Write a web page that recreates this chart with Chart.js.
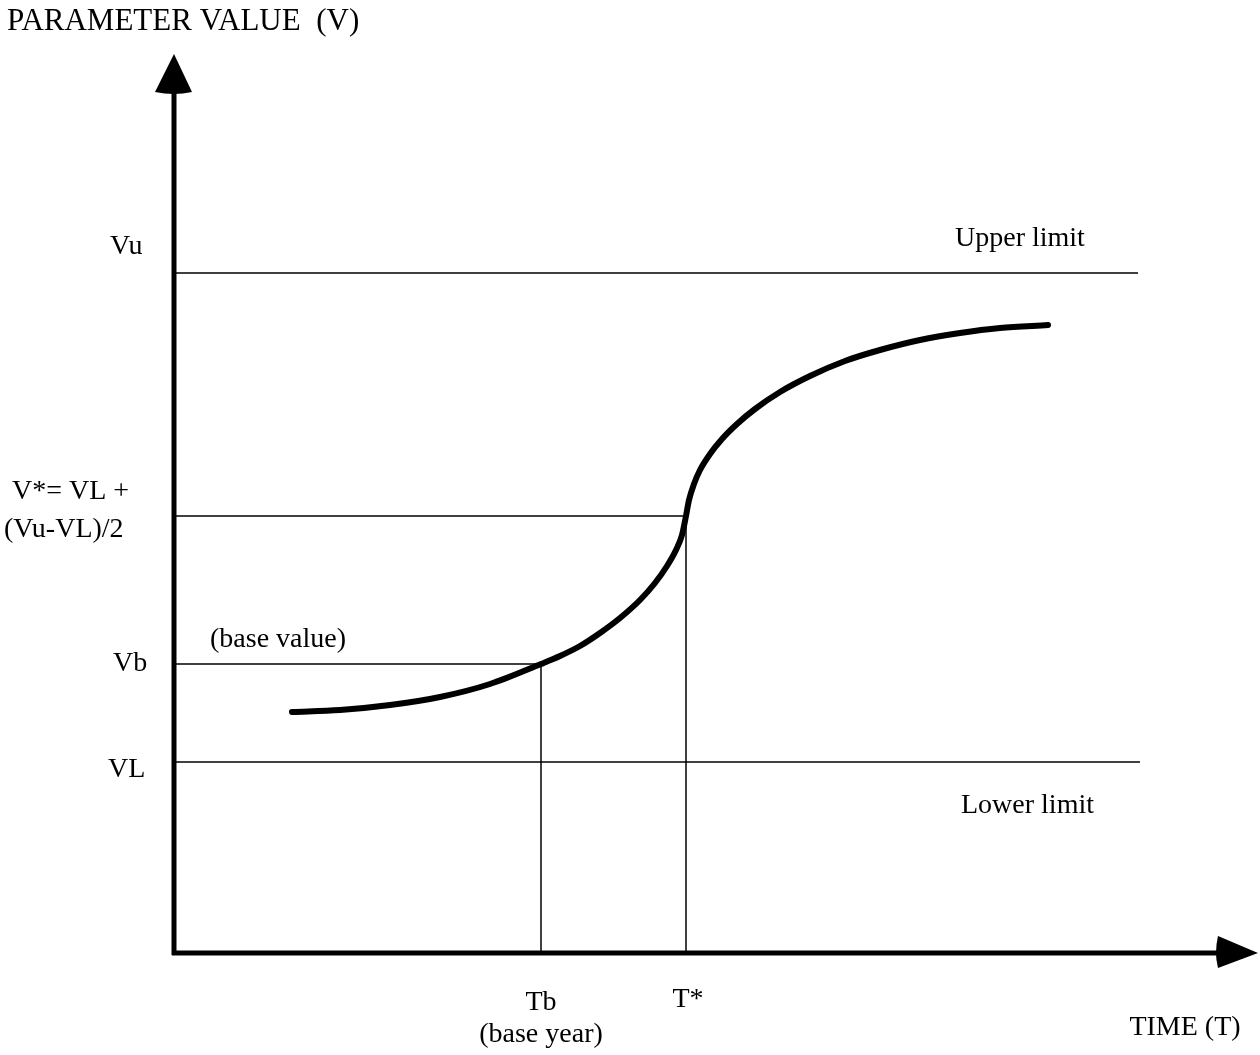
<!DOCTYPE html>
<html>
<head>
<meta charset="utf-8">
<script src="https://cdn.jsdelivr.net/npm/chart.js@4/dist/chart.umd.min.js"></script>
<style>
  html, body { margin: 0; padding: 0; background: #fff; }
  #wrap { width: 1260px; height: 1055px; position: relative; }
</style>
</head>
<body>
<div id="wrap"><canvas id="myChart"></canvas></div>
<script>
// S-curve (time T, value V)
const curveT = [11.8, 16.6, 21.6, 26.6, 31.6, 36.7, 38.6, 40.6, 42.6, 44.6, 46.6, 48.1, 49.3, 50.2, 50.8, 51.2,
  51.5, 52.0, 52.6, 53.6, 54.8, 56.3, 58.1, 60.6, 63.6, 67.1, 70.6, 74.6, 78.6, 82.6, 87.4];
const curveV = [24.1, 24.3, 24.8, 25.6, 26.9, 28.9, 29.7, 30.7, 32.0, 33.5, 35.3, 37.0, 38.7, 40.3, 41.8, 43.7,
  45.3, 46.9, 48.3, 49.9, 51.4, 52.9, 54.4, 56.1, 57.7, 59.2, 60.3, 61.3, 62.0, 62.5, 62.8];

// horizontal levels and how far right each line reaches
const levelNames = ['VL', 'Vb', 'V*', 'Vu'];
const levelValues = [19.1, 28.9, 43.7, 68.0];
const levelEnds = [96.6, 36.7, 51.2, 96.4];

// vertical time markers
const timeNames = ['Tb', 'T*'];
const timeValues = [36.7, 51.2];
const timeTops = [28.9, 43.7];

const FONT = '28px "Liberation Serif", "Times New Roman", serif';
const TITLE_FONT = '31px "Liberation Serif", "Times New Roman", serif';

const datasets = [
  {
    label: 'curve',
    data: curveT.map((t, i) => ({ x: t, y: curveV[i] })),
    borderColor: '#000',
    borderWidth: 6,
    borderCapStyle: 'round',
    borderJoinStyle: 'round',
    cubicInterpolationMode: 'monotone',
    pointRadius: 0,
  },
];
levelNames.forEach((name, i) => {
  datasets.push({
    label: name,
    data: [{ x: 0, y: levelValues[i] }, { x: levelEnds[i], y: levelValues[i] }],
    borderColor: '#000',
    borderWidth: 1.5,
    pointRadius: 0,
  });
});
timeNames.forEach((name, i) => {
  datasets.push({
    label: name,
    data: [{ x: timeValues[i], y: 0 }, { x: timeValues[i], y: timeTops[i] }],
    borderColor: '#000',
    borderWidth: 1.5,
    pointRadius: 0,
  });
});

const axesAndText = {
  id: 'axesAndText',
  afterDatasetsDraw(chart) {
    const { ctx, chartArea, scales } = chart;
    const x = scales.x;
    const y = scales.y;
    const x0 = x.getPixelForValue(0);
    const y0 = y.getPixelForValue(0);
    ctx.save();
    ctx.fillStyle = '#000';
    ctx.strokeStyle = '#000';
    ctx.lineWidth = 5;

    // y axis + arrow
    ctx.beginPath();
    ctx.moveTo(x0, y0 + 2);
    ctx.lineTo(x0, chartArea.top + 40);
    ctx.stroke();
    ctx.beginPath();
    ctx.moveTo(x0, chartArea.top + 1);
    ctx.lineTo(x0 - 19, chartArea.top + 39);
    ctx.quadraticCurveTo(x0, chartArea.top + 43, x0 + 18, chartArea.top + 39);
    ctx.closePath();
    ctx.fill();

    // x axis + arrow
    ctx.beginPath();
    ctx.moveTo(x0 - 2, y0);
    ctx.lineTo(chartArea.right - 40, y0);
    ctx.stroke();
    ctx.beginPath();
    ctx.moveTo(chartArea.right - 2, y0);
    ctx.lineTo(chartArea.right - 42, y0 - 17);
    ctx.quadraticCurveTo(chartArea.right - 46, y0, chartArea.right - 42, y0 + 15);
    ctx.closePath();
    ctx.fill();

    ctx.textBaseline = 'middle';
    ctx.textAlign = 'left';
    ctx.font = TITLE_FONT;
    ctx.fillText('PARAMETER VALUE  (V)', 7, 22);

    ctx.font = FONT;
    const yVL = y.getPixelForValue(levelValues[0]);
    const yVb = y.getPixelForValue(levelValues[1]);
    const yVs = y.getPixelForValue(levelValues[2]);
    const yVu = y.getPixelForValue(levelValues[3]);

    ctx.fillText('Vu', 110, yVu - 26);
    ctx.fillText('V*= VL +', 12, yVs - 24);
    ctx.fillText('(Vu-VL)/2', 4, yVs + 14);
    ctx.fillText('Vb', 113, yVb);
    ctx.fillText('(base value)', 210, yVb - 24);
    ctx.fillText('VL', 108, yVL + 8);
    ctx.fillText('Upper limit', 955, yVu - 34);
    ctx.fillText('Lower limit', 961, yVL + 44);

    ctx.textAlign = 'center';
    const xTb = x.getPixelForValue(timeValues[0]);
    const xTs = x.getPixelForValue(timeValues[1]);
    ctx.fillText('Tb', xTb, y0 + 50);
    ctx.fillText('(base year)', xTb, y0 + 82);
    ctx.fillText('T*', xTs + 2, y0 + 47);
    ctx.fillText('TIME (T)', 1185, y0 + 75);
    ctx.restore();
  },
};

new Chart(document.getElementById('myChart'), {
  type: 'line',
  data: { datasets },
  options: {
    responsive: true,
    maintainAspectRatio: false,
    animation: false,
    devicePixelRatio: 1,
    layout: { padding: { left: 174, right: 0, top: 53, bottom: 102 } },
    plugins: { legend: { display: false }, tooltip: { enabled: false } },
    scales: {
      x: { type: 'linear', min: 0, max: 108.6, display: false },
      y: { type: 'linear', min: 0, max: 90, display: false },
    },
  },
  plugins: [axesAndText],
});
</script>
</body>
</html>
